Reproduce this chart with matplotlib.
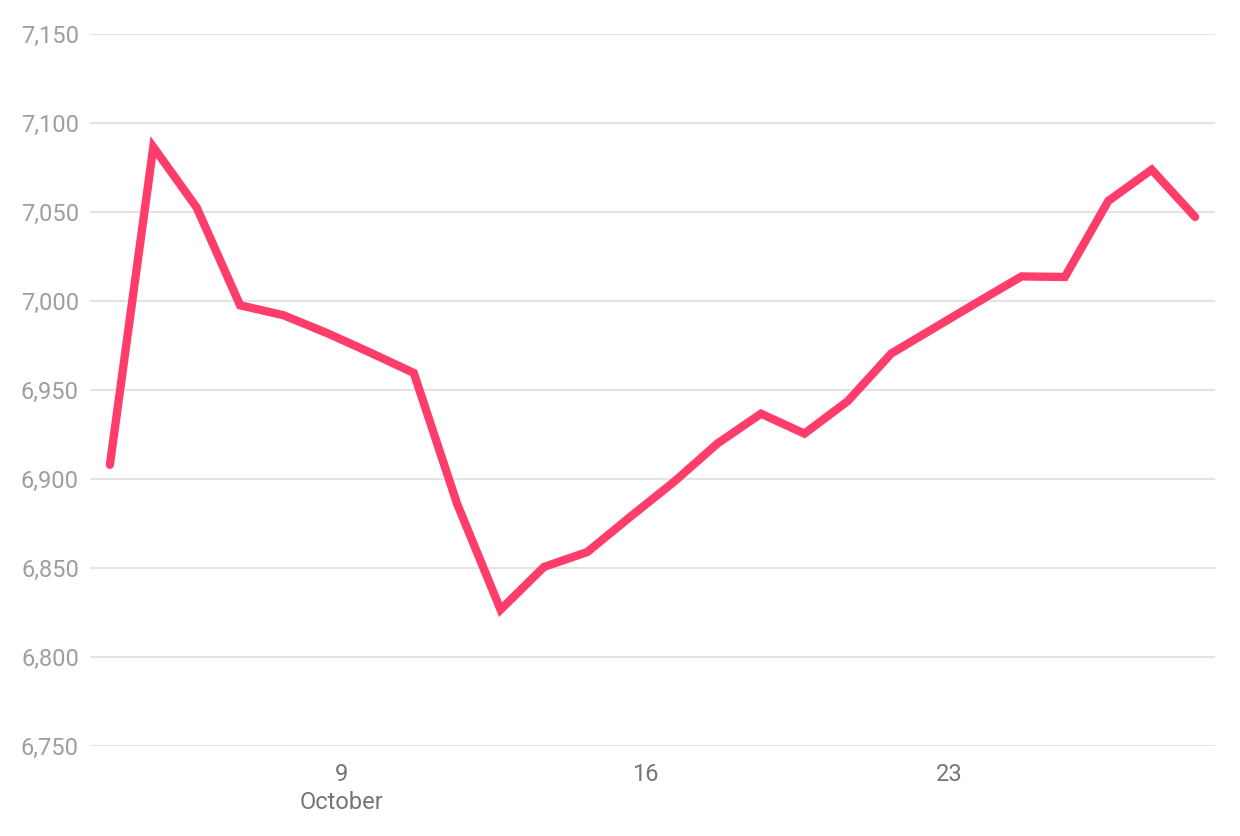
import matplotlib
matplotlib.use("Agg")
import matplotlib.pyplot as plt
import pandas as pd

plt.rcParams['font.family'] = ['Roboto', 'DejaVu Sans']

dates = [
    "2023-10-03 16:00", "2023-10-04 16:00", "2023-10-05 16:00", "2023-10-06 16:00",
    "2023-10-07 16:00", "2023-10-08 16:00", "2023-10-09 16:00", "2023-10-10 16:00",
    "2023-10-11 16:00", "2023-10-12 16:00", "2023-10-13 16:00", "2023-10-14 16:00",
    "2023-10-15 16:00", "2023-10-16 16:00", "2023-10-17 16:00", "2023-10-18 16:00",
    "2023-10-19 16:00", "2023-10-20 16:00", "2023-10-21 16:00", "2023-10-22 16:00",
    "2023-10-23 16:00", "2023-10-24 16:00", "2023-10-25 16:00", "2023-10-26 16:00",
    "2023-10-27 16:00", "2023-10-28 16:00",
]
values = [
    6908, 7086.5, 7052.5, 6997.6, 6992, 6982, 6971, 6959.6,
    6886, 6826.6, 6850.6, 6859, 6879, 6898.5, 6920, 6936.7,
    6925.5, 6943.8, 6970.5, 6985, 6999.5, 7013.8, 7013.5, 7056.2,
    7073.8, 7047.2,
]
y_ticks = [6750, 6800, 6850, 6900, 6950, 7000, 7050, 7100, 7150]
x_tick_days = ["2023-10-09", "2023-10-16", "2023-10-23"]
x_tick_labels = ["9\nOctober", "16", "23"]

x = pd.to_datetime(dates)

fig = plt.figure(figsize=(12.4, 8.36), dpi=100)
ax = fig.add_axes([90/1240, 1-746/836, (1215-90)/1240, (746-34)/836])

ax.plot(x, values, color='#ff3d6b', linewidth=6.0, solid_capstyle='round',
        solid_joinstyle='miter', zorder=3)

ax.set_ylim(6750, 7150)
ax.set_yticks(y_ticks)
ax.set_yticklabels([f"{v:,}" for v in y_ticks])
ax.set_xlim(pd.Timestamp("2023-10-03 05:00"), pd.Timestamp("2023-10-29 03:00"))
ax.set_xticks(pd.to_datetime(x_tick_days))
ax.set_xticklabels(x_tick_labels, linespacing=1.3, va='top')

ax.grid(axis='y', color='#e3e3e3', linewidth=1.5, zorder=0)
ax.grid(axis='x', visible=False)
for s in ax.spines.values():
    s.set_visible(False)
ax.tick_params(axis='y', length=0, pad=8, labelsize=17, labelcolor='#9e9e9e')
ax.tick_params(axis='x', length=0, pad=12, labelsize=17, labelcolor='#757575')
ax.set_axisbelow(True)

fig.savefig("out.png", dpi=100, facecolor='white')
